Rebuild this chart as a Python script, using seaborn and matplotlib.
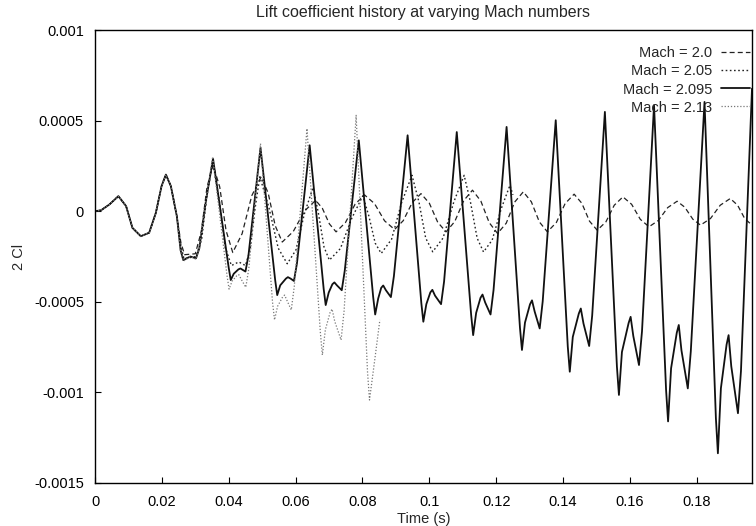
import matplotlib
matplotlib.use("Agg")
import matplotlib.pyplot as plt
import numpy as np
import pandas as pd
import seaborn as sns

# ---------------- data ----------------
title = "Lift coefficient history at varying Mach numbers"
x_label = "Time (s)"
y_label = "2 Cl"

x_ticks = [0, 0.02, 0.04, 0.06, 0.08, 0.10, 0.12, 0.14, 0.16, 0.18]
x_tick_labels = ["0", "0.02", "0.04", "0.06", "0.08", "0.1", "0.12", "0.14", "0.16", "0.18"]
y_ticks = [0.001, 0.0005, 0, -0.0005, -0.001, -0.0015]
y_tick_labels = ["0.001", "0.0005", "0", "-0.0005", "-0.001", "-0.0015"]

series_labels = ["Mach = 2.0", "Mach = 2.05", "Mach = 2.095", "Mach = 2.13"]

# common start of all runs (time in s, value in units of 1e-6)
t_start = [0, 0.0018, 0.0043, 0.0070, 0.0093, 0.0112, 0.0137, 0.0162, 0.0182, 0.0199, 0.0212, 0.0227, 0.0245]
v_start = [0, 5, 37, 83, 28, -92, -138, -119, -9, 138, 202, 138, -30]

# Mach 2.0
t_m200 = [0.0257, 0.0268, 0.0300, 0.0318, 0.0335, 0.0353, 0.0373, 0.0392, 0.0412, 0.0440,
          0.0469, 0.0497, 0.0518, 0.0539, 0.0560, 0.0593, 0.0627, 0.0660, 0.0680, 0.0701,
          0.0721, 0.0749, 0.0778, 0.0806, 0.0836, 0.0866, 0.0896, 0.0922, 0.0949, 0.0975,
          0.1000, 0.1025, 0.1050, 0.1076, 0.1103, 0.1129, 0.1154, 0.1179, 0.1204, 0.1230,
          0.1255, 0.1281, 0.1305, 0.1329, 0.1353, 0.1380, 0.1406, 0.1433, 0.1456, 0.1479,
          0.1502, 0.1528, 0.1553, 0.1579, 0.1605, 0.1631, 0.1657, 0.1685, 0.1713, 0.1741,
          0.1764, 0.1788, 0.1811, 0.1841, 0.1870, 0.1900, 0.1922, 0.1943, 0.1965]
v_m200 = [-175, -240, -235, -112, 133, 255, 134, -107, -228, -124,
          86, 190, 100, -80, -170, -112, 2, 60, 16, -70,
          -114, -63, 39, 90, 42, -53, -101, -52, 48, 97,
          44, -61, -114, -57, 59, 116, 56, -63, -123, -66,
          50, 107, 52, -59, -114, -62, 42, 94, 44, -55,
          -105, -59, 33, 79, 38, -45, -86, -51, 20, 55,
          22, -44, -77, -40, 33, 70, 33, -40, -77]

# Mach 2.05
t_m205 = [0.0257, 0.0266, 0.0302, 0.0319, 0.0335, 0.0352, 0.0371, 0.0389, 0.0408, 0.0430,
          0.0450, 0.0464, 0.0479, 0.0493, 0.0520, 0.0548, 0.0575, 0.0601, 0.0626, 0.0652,
          0.0668, 0.0685, 0.0701, 0.0734, 0.0768, 0.0801, 0.0819, 0.0838, 0.0856, 0.0887,
          0.0917, 0.0948, 0.0969, 0.0989, 0.1010, 0.1041, 0.1073, 0.1104, 0.1123, 0.1143,
          0.1162, 0.1188, 0.1215, 0.1241, 0.1250]
v_m205 = [-190, -262, -250, -156, 88, 270, 70, -197, -300, -280,
          -300, -212, 19, 190, 22, -204, -290, -214, -16, 131,
          -9, -198, -270, -206, -39, 85, -26, -176, -233, -155,
          47, 198, 50, -148, -224, -148, 50, 198, 50, -149,
          -225, -159, 14, 143, 90]

# Mach 2.095
t_m2095 = [0.0256, 0.0264, 0.0285, 0.0302, 0.0312, 0.0332, 0.0353,
           0.0400, 0.0406, 0.0415, 0.0429, 0.0435, 0.0441, 0.0450, 0.0459, 0.0495,
           0.0539, 0.0545, 0.0554, 0.0571, 0.0577, 0.0585, 0.0595, 0.0604, 0.0642,
           0.0684, 0.0690, 0.0699, 0.0710, 0.0716, 0.0724, 0.0738, 0.0747, 0.0789,
           0.0832, 0.0838, 0.0847, 0.0856, 0.0862, 0.0870, 0.0885, 0.0894, 0.0935,
           0.0976, 0.0982, 0.0991, 0.1003, 0.1009, 0.1017, 0.1035, 0.1044, 0.1082,
           0.1125, 0.1131, 0.1140, 0.1153, 0.1159, 0.1167, 0.1183, 0.1192, 0.1231,
           0.1271, 0.1277, 0.1286, 0.1301, 0.1307, 0.1315, 0.1330, 0.1339, 0.1378,
           0.1414, 0.1420, 0.1429, 0.1447, 0.1453, 0.1461, 0.1478, 0.1487, 0.1525,
           0.1561, 0.1567, 0.1576, 0.1596, 0.1602, 0.1610, 0.1627, 0.1636, 0.1672,
           0.1708, 0.1714, 0.1723, 0.1740, 0.1746, 0.1754, 0.1773, 0.1782, 0.1823,
           0.1857, 0.1863, 0.1872, 0.1889, 0.1895, 0.1903, 0.1923, 0.1932, 0.1965]
v_m2095 = [-215, -270, -250, -260, -205, 60, 290,
           -313, -380, -345, -321, -316, -323, -333, -244, 350,
           -382, -463, -409, -372, -364, -372, -385, -288, 364,
           -430, -518, -449, -403, -393, -410, -436, -328, 391,
           -474, -570, -482, -423, -410, -436, -474, -358, 419,
           -507, -610, -513, -448, -434, -466, -513, -389, 437,
           -572, -684, -561, -478, -460, -504, -570, -435, 465,
           -643, -766, -615, -514, -492, -554, -647, -498, 502,
           -747, -886, -694, -565, -537, -620, -744, -576, 548,
           -858, -1014, -777, -617, -583, -689, -849, -663, 584,
           -986, -1160, -867, -671, -628, -768, -978, -772, 603,
           -1142, -1336, -977, -736, -684, -856, -1115, -882, 676]

# Mach 2.13
t_m213 = [0.0256, 0.0265, 0.0285, 0.0302, 0.0312, 0.0332, 0.0352,
          0.0395, 0.0401, 0.0410, 0.0424, 0.0430, 0.0438, 0.0451, 0.0460, 0.0495,
          0.0531, 0.0537, 0.0546, 0.0561, 0.0567, 0.0575, 0.0587, 0.0596, 0.0634,
          0.0674, 0.0680, 0.0689, 0.0703, 0.0709, 0.0717, 0.0736, 0.0745, 0.0781,
          0.0815, 0.0821, 0.0836, 0.0852]
v_m213 = [-220, -275, -250, -265, -205, 60, 300,
          -357, -430, -386, -356, -350, -378, -420, -317, 373,
          -503, -600, -525, -474, -463, -496, -545, -415, 456,
          -669, -794, -654, -560, -540, -608, -711, -550, 529,
          -885, -1042, -830, -600]

# ---------------- build table ----------------
frames = []
for lab, tt, vv in zip(series_labels,
                       [t_m200, t_m205, t_m2095, t_m213],
                       [v_m200, v_m205, v_m2095, v_m213]):
    frames.append(pd.DataFrame({
        "series": lab,
        "t": t_start + tt,
        "v": np.array(v_start + vv, dtype=float) * 1e-6,
    }))
df = pd.concat(frames, ignore_index=True)

# ---------------- style ----------------
sns.set_style("ticks")
plt.rcParams["font.family"] = ["Liberation Sans", "DejaVu Sans"]
plt.rcParams["axes.linewidth"] = 1.0

styles = {
    "Mach = 2.0": dict(color="#222222", lw=0.9, linestyle=(0, (4, 2.5))),
    "Mach = 2.05": dict(color="#222222", lw=1.0, linestyle=(0, (1.2, 1.8))),
    "Mach = 2.095": dict(color="#111111", lw=1.3, linestyle="-"),
    "Mach = 2.13": dict(color="#777777", lw=0.9, linestyle=(0, (1, 1.5))),
}

fig = plt.figure(figsize=(7.56, 5.26), dpi=100)
W, H = 756, 526
ax = fig.add_axes([95 / W, (H - 483) / H, 657 / W, 453 / H])

for lab in series_labels:
    sub = df[df["series"] == lab]
    sns.lineplot(data=sub, x="t", y="v", ax=ax, sort=False, estimator=None,
                 label=lab, **styles[lab])

ax.set_xlim(0, 0.1965)
ax.set_ylim(-0.0015, 0.001)
ax.set_xticks(x_ticks)
ax.set_xticklabels(x_tick_labels)
ax.set_yticks(y_ticks)
ax.set_yticklabels(y_tick_labels)
ax.tick_params(direction="in", length=4, width=0.8, labelsize=10.5, colors="black")
ax.tick_params(axis="x", pad=9)
ax.tick_params(axis="y", pad=8)
for s in ax.spines.values():
    s.set_visible(True)
    s.set_color("black")

ax.set_xlabel(x_label, fontsize=10.5, labelpad=2)
ax.set_ylabel(y_label, fontsize=10.5, labelpad=6)
ax.set_title(title, fontsize=11.5, pad=9)

leg = ax.legend(loc="upper right", bbox_to_anchor=(1.008, 0.98), frameon=False,
                markerfirst=False, handlelength=2.0, handletextpad=0.6,
                labelspacing=0.28, fontsize=10.5, borderaxespad=0.1, borderpad=0.4)

fig.savefig("out.png", dpi=100)
